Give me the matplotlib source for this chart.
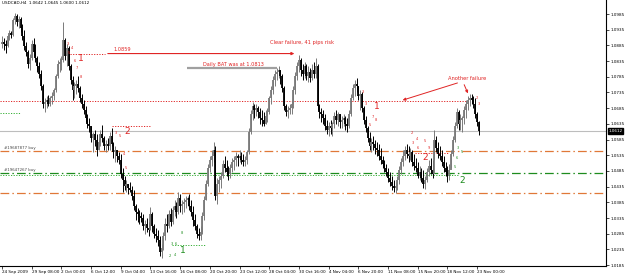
import numpy as np
import matplotlib.pyplot as plt

# USDCAD H4 bars, 24 Sep - 23 Nov 2009 (open of each bar = previous close)
symbol_title = "USDCAD,H4  1.0642 1.0645 1.0600 1.0612"
first_open = 1.0890
highs = [1.0915, 1.0909, 1.0903, 1.0922, 1.0934, 1.0931, 1.0973, 1.0989, 1.0985, 1.0979,
         1.0976, 1.0954, 1.0934, 1.0896, 1.0871, 1.0858, 1.0903, 1.0909, 1.0890, 1.0852,
         1.0832, 1.0807, 1.0762, 1.0718, 1.0724, 1.0727, 1.0724, 1.0737, 1.0750, 1.0794,
         1.0839, 1.0845, 1.0852, 1.0960, 1.0909, 1.0890, 1.0884, 1.0826, 1.0788, 1.0769,
         1.0775, 1.0788, 1.0756, 1.0731, 1.0711, 1.0692, 1.0667, 1.0654, 1.0629, 1.0610,
         1.0616, 1.0603, 1.0590, 1.0616, 1.0632, 1.0597, 1.0584, 1.0590, 1.0610, 1.0622,
         1.0578, 1.0565, 1.0552, 1.0546, 1.0539, 1.0495, 1.0469, 1.0457, 1.0444, 1.0450,
         1.0438, 1.0425, 1.0380, 1.0368, 1.0361, 1.0355, 1.0348, 1.0329, 1.0336, 1.0323,
         1.0371, 1.0355, 1.0317, 1.0304, 1.0297, 1.0278, 1.0253, 1.0291, 1.0336, 1.0348,
         1.0361, 1.0368, 1.0374, 1.0393, 1.0387, 1.0418, 1.0412, 1.0393, 1.0399, 1.0406,
         1.0406, 1.0412, 1.0393, 1.0374, 1.0348, 1.0317, 1.0304, 1.0310, 1.0355, 1.0406,
         1.0457, 1.0508, 1.0533, 1.0552, 1.0578, 1.0565, 1.0463, 1.0469, 1.0482, 1.0520,
         1.0533, 1.0520, 1.0501, 1.0508, 1.0527, 1.0533, 1.0546, 1.0539, 1.0552, 1.0546,
         1.0539, 1.0533, 1.0552, 1.0622, 1.0680, 1.0705, 1.0699, 1.0699, 1.0692, 1.0686,
         1.0680, 1.0673, 1.0680, 1.0686, 1.0724, 1.0756, 1.0788, 1.0807, 1.0813, 1.0820,
         1.0807, 1.0794, 1.0756, 1.0699, 1.0692, 1.0699, 1.0711, 1.0756, 1.0801, 1.0832,
         1.0855, 1.0845, 1.0826, 1.0832, 1.0826, 1.0820, 1.0813, 1.0826, 1.0832, 1.0845,
         1.0826, 1.0699, 1.0686, 1.0680, 1.0667, 1.0648, 1.0641, 1.0648, 1.0641, 1.0673,
         1.0680, 1.0673, 1.0667, 1.0660, 1.0667, 1.0660, 1.0654, 1.0680, 1.0731, 1.0762,
         1.0775, 1.0782, 1.0756, 1.0743, 1.0737, 1.0692, 1.0660, 1.0629, 1.0610, 1.0590,
         1.0597, 1.0584, 1.0578, 1.0571, 1.0559, 1.0533, 1.0520, 1.0508, 1.0495, 1.0482,
         1.0469, 1.0457, 1.0450, 1.0469, 1.0501, 1.0527, 1.0552, 1.0565, 1.0571, 1.0565,
         1.0559, 1.0552, 1.0539, 1.0527, 1.0514, 1.0501, 1.0495, 1.0488, 1.0469, 1.0495,
         1.0520, 1.0527, 1.0520, 1.0616, 1.0597, 1.0578, 1.0565, 1.0552, 1.0533, 1.0514,
         1.0501, 1.0508, 1.0552, 1.0597, 1.0641, 1.0686, 1.0680, 1.0667, 1.0660, 1.0692,
         1.0711, 1.0724, 1.0731, 1.0731, 1.0724, 1.0718, 1.0673, 1.0645]
lows = [1.0877, 1.0871, 1.0861, 1.0880, 1.0903, 1.0909, 1.0915, 1.0954, 1.0947, 1.0941,
        1.0928, 1.0903, 1.0871, 1.0852, 1.0813, 1.0807, 1.0839, 1.0852, 1.0832, 1.0801,
        1.0782, 1.0743, 1.0686, 1.0673, 1.0686, 1.0692, 1.0692, 1.0699, 1.0711, 1.0737,
        1.0782, 1.0801, 1.0807, 1.0832, 1.0839, 1.0820, 1.0807, 1.0762, 1.0711, 1.0718,
        1.0731, 1.0737, 1.0705, 1.0686, 1.0667, 1.0641, 1.0622, 1.0610, 1.0578, 1.0546,
        1.0565, 1.0533, 1.0552, 1.0565, 1.0578, 1.0552, 1.0546, 1.0552, 1.0552, 1.0565,
        1.0527, 1.0514, 1.0514, 1.0508, 1.0463, 1.0418, 1.0425, 1.0418, 1.0412, 1.0418,
        1.0393, 1.0361, 1.0329, 1.0323, 1.0317, 1.0323, 1.0297, 1.0285, 1.0291, 1.0278,
        1.0297, 1.0291, 1.0272, 1.0259, 1.0246, 1.0215, 1.0208, 1.0234, 1.0266, 1.0291,
        1.0304, 1.0310, 1.0317, 1.0342, 1.0336, 1.0348, 1.0355, 1.0348, 1.0355, 1.0368,
        1.0374, 1.0361, 1.0342, 1.0310, 1.0297, 1.0272, 1.0266, 1.0266, 1.0285, 1.0329,
        1.0393, 1.0438, 1.0482, 1.0501, 1.0514, 1.0393, 1.0380, 1.0418, 1.0431, 1.0463,
        1.0482, 1.0469, 1.0457, 1.0463, 1.0482, 1.0488, 1.0501, 1.0501, 1.0514, 1.0508,
        1.0501, 1.0501, 1.0508, 1.0539, 1.0603, 1.0648, 1.0654, 1.0660, 1.0654, 1.0635,
        1.0629, 1.0629, 1.0635, 1.0641, 1.0667, 1.0699, 1.0731, 1.0756, 1.0775, 1.0782,
        1.0762, 1.0737, 1.0680, 1.0660, 1.0654, 1.0667, 1.0667, 1.0686, 1.0731, 1.0775,
        1.0801, 1.0788, 1.0775, 1.0782, 1.0775, 1.0769, 1.0769, 1.0775, 1.0782, 1.0782,
        1.0680, 1.0654, 1.0641, 1.0635, 1.0616, 1.0603, 1.0597, 1.0603, 1.0597, 1.0622,
        1.0635, 1.0629, 1.0622, 1.0622, 1.0629, 1.0616, 1.0610, 1.0622, 1.0660, 1.0711,
        1.0724, 1.0737, 1.0711, 1.0680, 1.0673, 1.0635, 1.0610, 1.0578, 1.0552, 1.0546,
        1.0552, 1.0539, 1.0533, 1.0520, 1.0508, 1.0495, 1.0482, 1.0469, 1.0450, 1.0438,
        1.0425, 1.0418, 1.0415, 1.0425, 1.0444, 1.0476, 1.0501, 1.0520, 1.0527, 1.0514,
        1.0520, 1.0501, 1.0488, 1.0482, 1.0463, 1.0457, 1.0450, 1.0431, 1.0428, 1.0450,
        1.0469, 1.0476, 1.0463, 1.0520, 1.0546, 1.0527, 1.0520, 1.0501, 1.0482, 1.0469,
        1.0450, 1.0457, 1.0495, 1.0533, 1.0578, 1.0622, 1.0616, 1.0616, 1.0610, 1.0635,
        1.0654, 1.0680, 1.0692, 1.0699, 1.0686, 1.0654, 1.0629, 1.0600]
closes = [1.0896, 1.0890, 1.0884, 1.0915, 1.0925, 1.0919, 1.0966, 1.0979, 1.0960, 1.0970,
          1.0941, 1.0915, 1.0884, 1.0864, 1.0826, 1.0845, 1.0890, 1.0864, 1.0845, 1.0820,
          1.0794, 1.0756, 1.0699, 1.0705, 1.0711, 1.0699, 1.0718, 1.0724, 1.0743, 1.0788,
          1.0826, 1.0832, 1.0839, 1.0903, 1.0852, 1.0877, 1.0820, 1.0775, 1.0743, 1.0756,
          1.0762, 1.0750, 1.0718, 1.0699, 1.0680, 1.0654, 1.0635, 1.0629, 1.0590, 1.0603,
          1.0584, 1.0552, 1.0578, 1.0603, 1.0590, 1.0565, 1.0571, 1.0565, 1.0597, 1.0571,
          1.0546, 1.0552, 1.0533, 1.0520, 1.0476, 1.0457, 1.0438, 1.0444, 1.0431, 1.0425,
          1.0406, 1.0374, 1.0355, 1.0348, 1.0342, 1.0336, 1.0310, 1.0317, 1.0304, 1.0297,
          1.0348, 1.0310, 1.0285, 1.0278, 1.0266, 1.0227, 1.0240, 1.0278, 1.0317, 1.0310,
          1.0348, 1.0323, 1.0361, 1.0374, 1.0355, 1.0399, 1.0374, 1.0380, 1.0387, 1.0393,
          1.0399, 1.0374, 1.0355, 1.0329, 1.0310, 1.0285, 1.0278, 1.0291, 1.0342, 1.0393,
          1.0444, 1.0495, 1.0520, 1.0533, 1.0552, 1.0406, 1.0444, 1.0457, 1.0469, 1.0508,
          1.0495, 1.0482, 1.0476, 1.0495, 1.0514, 1.0520, 1.0533, 1.0527, 1.0533, 1.0520,
          1.0514, 1.0520, 1.0546, 1.0610, 1.0667, 1.0692, 1.0680, 1.0686, 1.0673, 1.0654,
          1.0648, 1.0635, 1.0660, 1.0673, 1.0718, 1.0743, 1.0775, 1.0794, 1.0801, 1.0807,
          1.0788, 1.0750, 1.0692, 1.0673, 1.0680, 1.0686, 1.0699, 1.0743, 1.0788, 1.0820,
          1.0839, 1.0807, 1.0794, 1.0820, 1.0788, 1.0801, 1.0782, 1.0807, 1.0794, 1.0820,
          1.0692, 1.0673, 1.0667, 1.0654, 1.0629, 1.0616, 1.0629, 1.0622, 1.0635, 1.0660,
          1.0648, 1.0667, 1.0641, 1.0648, 1.0654, 1.0635, 1.0629, 1.0667, 1.0718, 1.0750,
          1.0762, 1.0756, 1.0724, 1.0731, 1.0686, 1.0648, 1.0622, 1.0590, 1.0565, 1.0578,
          1.0571, 1.0559, 1.0552, 1.0533, 1.0520, 1.0508, 1.0495, 1.0482, 1.0463, 1.0450,
          1.0438, 1.0431, 1.0438, 1.0457, 1.0488, 1.0514, 1.0533, 1.0552, 1.0539, 1.0533,
          1.0546, 1.0514, 1.0501, 1.0495, 1.0469, 1.0482, 1.0463, 1.0444, 1.0457, 1.0482,
          1.0501, 1.0488, 1.0476, 1.0584, 1.0559, 1.0539, 1.0533, 1.0514, 1.0495, 1.0482,
          1.0469, 1.0488, 1.0539, 1.0584, 1.0629, 1.0673, 1.0635, 1.0648, 1.0654, 1.0680,
          1.0699, 1.0711, 1.0718, 1.0711, 1.0699, 1.0667, 1.0642, 1.0612]

date_labels = ["24 Sep 2009", "29 Sep 08:00", "2 Oct 00:00", "6 Oct 12:00", "9 Oct 04:00",
               "13 Oct 16:00", "16 Oct 08:00", "20 Oct 20:00", "23 Oct 12:00", "28 Oct 04:00",
               "30 Oct 16:00", "4 Nov 04:00", "6 Nov 20:00", "11 Nov 08:00", "15 Nov 20:00",
               "18 Nov 12:00", "23 Nov 00:00"]
bars_per_label = 16
price_ticks = [1.0185, 1.0235, 1.0285, 1.0335, 1.0385, 1.0435, 1.0485, 1.0535, 1.0585,
               1.0635, 1.0685, 1.0735, 1.0785, 1.0835, 1.0885, 1.0935, 1.0985]

# horizontal levels on the chart
last_price = 1.0612
order_1 = 1.0549      # #19687877 buy
order_2 = 1.0479      # #19647267 buy
stop_level = 1.0416
failure_level = 1.0708
bat_level = 1.0859
daily_bat = 1.0813

RED = '#e02424'
GREEN = '#1e8c1e'
ORANGE = '#e07838'
DASHDOT = (0, (7, 2.5, 1.2, 2.5))
DOTS = (0, (1.2, 1.5))

fig = plt.figure(figsize=(6.25, 2.75), dpi=100)
ax = fig.add_axes([0, 1 - 266 / 275, 606 / 625, 266 / 275])

n = len(closes)
idx = np.arange(n)
c = np.array(closes)
o = np.array([first_open] + closes[:-1])
h = np.array(highs)
l = np.array(lows)
up = c >= o
cols = np.where(up, '#7a7a7a', '#000000')
ax.vlines(idx, l, h, colors=cols, lw=0.7, zorder=3)
ax.vlines(idx, np.minimum(o, c), np.maximum(o, c) + 0.00005, colors=cols, lw=1.3, zorder=3)

# full width levels
ax.axhline(last_price, color='#bdbdbd', lw=0.8, zorder=1)
ax.axhline(order_1, color=ORANGE, lw=0.9, ls=DASHDOT, zorder=1)
ax.axhline(order_2, color=GREEN, lw=0.9, ls=DASHDOT, zorder=1)
ax.axhline(stop_level, color=ORANGE, lw=0.9, ls=DASHDOT, zorder=1)
ax.hlines(order_2 - 0.0006, -1, 246, color='#35b035', lw=0.7, ls=DOTS, zorder=1)
ax.hlines(failure_level, -1, 252, color=RED, lw=0.7, ls=DOTS, zorder=1)

# pattern lines
ax.hlines(bat_level, 36.6, 55.5, color=RED, lw=0.7, ls=DOTS, zorder=2)
ax.annotate('', xy=(159, bat_level), xytext=(55.5, bat_level),
            arrowprops=dict(arrowstyle='-|>', color=RED, lw=0.8, mutation_scale=4), zorder=2)
ax.text(59.8, bat_level + 0.0004, '1.0859', color=RED, fontsize=3.6, va='bottom')
ax.hlines(daily_bat, 99.7, 148.2, color='#a0a0a0', lw=1.6, zorder=2)
ax.text(124.5, daily_bat + 0.0004, 'Daily BAT was at 1.0813', color=RED, fontsize=3.6,
        ha='center', va='bottom')
ax.text(161.6, 1.0893, 'Clear failure, 41 pips risk', color=RED, fontsize=3.7,
        ha='center', va='center')
ax.hlines(1.0628, 59.3, 79.7, color=RED, lw=0.7, ls=DOTS, zorder=2)
ax.hlines(1.0249, 91.6, 109.4, color='#35b035', lw=0.7, ls=DOTS, zorder=2)
ax.hlines(1.0670, -1, 9.7, color='#35b035', lw=0.7, ls=DOTS, zorder=2)
ax.hlines(1.0542, 222.5, 240.3, color=RED, lw=0.7, ls=DOTS, zorder=2)

ax.text(250.5, 1.0781, 'Another failure', color=RED, fontsize=3.7, ha='center', va='center')
ax.annotate('', xy=(214.4, failure_level), xytext=(246.8, 1.0768),
            arrowprops=dict(arrowstyle='-|>', color=RED, lw=0.7, mutation_scale=4))
ax.annotate('', xy=(251.6, 1.0724), xytext=(248.4, 1.0768),
            arrowprops=dict(arrowstyle='-|>', color=RED, lw=0.7, mutation_scale=4))

ax.text(1, order_1 + 0.0003, '#19687877 buy', color='#444444', fontsize=2.8, va='bottom')
ax.text(1, order_2 + 0.0003, '#19647267 buy', color='#444444', fontsize=2.8, va='bottom')

# pattern point labels
big_labels = [(42.6, 1.0842, '1', RED), (67.3, 1.0612, '2', RED), (97.5, 1.0233, '1', GREEN),
              (202, 1.0689, '1', RED), (228, 1.0528, '2', RED), (247.8, 1.0456, '2', GREEN)]
for bx, by, t, col in big_labels:
    ax.text(bx, by, t, color=col, fontsize=6.5, ha='center', va='center')

small_labels = [(35.6, 1.0890, '3', RED), (37.7, 1.0877, '4', RED), (36.1, 1.0861, '5', RED),
                (39.3, 1.0835, '6', RED), (40.4, 1.0813, '7', RED), (42.6, 1.0784, '8', RED),
                (61.4, 1.0606, '3', RED), (63.6, 1.0596, '5', RED), (65.7, 1.0539, '4', RED),
                (66.8, 1.0495, '5', RED), (194.5, 1.0737, '3', RED), (196.1, 1.0698, '3', RED),
                (199.9, 1.0657, '7', RED), (201.5, 1.0647, '8', RED), (198.3, 1.0632, '5', RED),
                (220.9, 1.0606, '2', RED), (223.6, 1.0587, '4', RED), (221.4, 1.0574, '3', RED),
                (227.9, 1.0580, '5', RED), (224.3, 1.0558, '6', RED), (230.0, 1.0558, '9', RED),
                (255.9, 1.0717, '2', RED), (257.0, 1.0698, '3', RED),
                (97.0, 1.0287, '8', GREEN), (91.6, 1.0252, '3', GREEN), (93.8, 1.0252, '6', GREEN),
                (90.5, 1.0214, '2', GREEN), (93.2, 1.0217, '4', GREEN),
                (245.7, 1.0558, '3', GREEN), (247.8, 1.0546, '5', GREEN), (245.2, 1.0526, '6', GREEN),
                (244.1, 1.0498, '5', GREEN), (241.4, 1.0472, '2', GREEN)]
for sx, sy, t, col in small_labels:
    ax.text(sx, sy, t, color=col, fontsize=2.6, ha='center', va='center')

ax.set_xlim(-1.08, 325.4)
ax.set_ylim(1.01824, 1.10296)

for side in ['left', 'top']:
    ax.spines[side].set_visible(False)
for side in ['right', 'bottom']:
    ax.spines[side].set_linewidth(0.8)

ax.yaxis.tick_right()
ax.set_yticks(price_ticks)
ax.set_yticklabels(['%.4f' % p for p in price_ticks])
ax.set_xticks(np.arange(len(date_labels)) * bars_per_label)
ax.set_xticklabels(date_labels)
for t in ax.get_xticklabels():
    t.set_ha('left')
ax.tick_params(axis='both', labelsize=3.0, length=2, width=0.5, pad=1)

ax.text(1.004, last_price, '%.4f' % last_price, transform=ax.get_yaxis_transform(),
        fontsize=3.0, color='white', va='center', ha='left',
        bbox=dict(boxstyle='square,pad=0.15', fc='black', ec='black'))

fig.text(0.003, 0.995, symbol_title, fontsize=3.0, va='top', ha='left')

fig.savefig('out.png', dpi=100)
